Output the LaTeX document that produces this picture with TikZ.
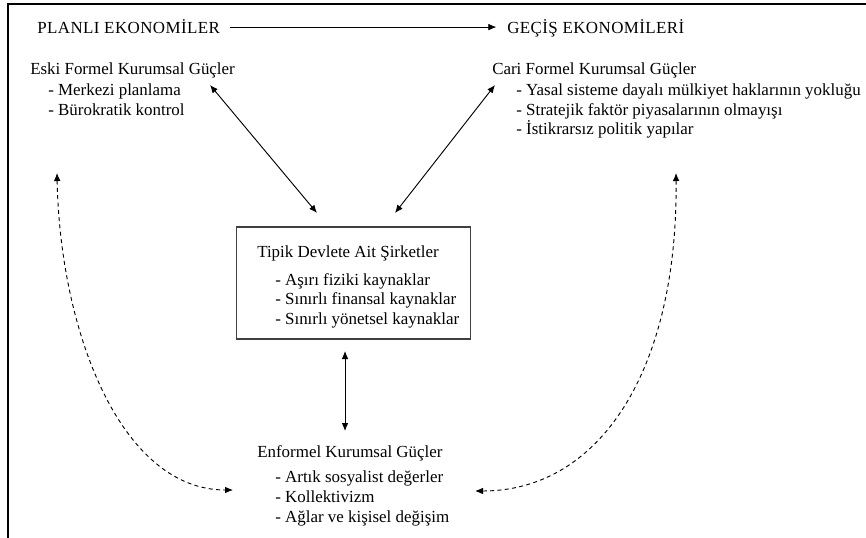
\documentclass[tikz,border=0pt]{standalone}
\usepackage{fontspec}
\setmainfont{Liberation Serif}
\usetikzlibrary{arrows.meta}
\tikzset{
  yazi/.style={anchor=base west, inner sep=0pt, font=\fontsize{12.7pt}{15pt}\selectfont},
  baslik/.style={yazi, font=\fontsize{12.7pt}{15pt}\selectfont\addfontfeature{LetterSpace=2.5}},
  kutu/.style={draw=black!75, line width=0.8pt, minimum width=176pt, minimum height=84pt},
  ok/.style={<->, line width=0.7pt, >={Latex[length=6pt,width=5pt]}},
  kesikok/.style={ok, dash pattern=on 3pt off 2.5pt}
}
\begin{document}
\begin{tikzpicture}[x=0.75pt,y=-0.75pt]
\useasboundingbox (0,0) rectangle (866,538);
\draw[line width=1.2pt] (866,4) -- (8,4) -- (8,538);

\draw (37,34) node[baslik] (planli) {PLANLI EKONOMİLER};
\draw (507,34) node[baslik] (gecis) {GEÇİŞ EKONOMİLERİ};
\draw[-{Latex[length=6pt,width=5pt]}, line width=0.6pt, shorten <=7pt, shorten >=8pt]
  (planli.east) -- (planli.east -| gecis.west);

\draw (30,75) node[yazi] (eski) {Eski Formel Kurumsal Güçler};
\draw (48,96) node[yazi] (eski1) {- Merkezi planlama};
\draw (48,115.5) node[yazi] (eski2) {- Bürokratik kontrol};

\draw (492,75) node[yazi] (cari) {Cari Formel Kurumsal Güçler};
\draw (516,96) node[yazi] (cari1) {- Yasal sisteme dayalı mülkiyet haklarının yokluğu};
\draw (516,115.5) node[yazi] (cari2) {- Stratejik faktör piyasalarının olmayışı};
\draw (516,135) node[yazi] (cari3) {- İstikrarsız politik yapılar};

\node[kutu] (sirket) at (353.5,283) {};
\draw (257,257) node[yazi] (tipik) {Tipik Devlete Ait Şirketler};
\draw (275,285) node[yazi] (tipik1) {- Aşırı fiziki kaynaklar};
\draw (275,304.5) node[yazi] (tipik2) {- Sınırlı finansal kaynaklar};
\draw (275,324) node[yazi] (tipik3) {- Sınırlı yönetsel kaynaklar};

\draw (257,457) node[yazi] (enformel) {Enformel Kurumsal Güçler};
\draw (275,482) node[yazi] (enformel1) {- Artık sosyalist değerler};
\draw (275,502) node[yazi] (enformel2) {- Kollektivizm};
\draw (275,522) node[yazi] (enformel3) {- Ağlar ve kişisel değişim};

% ok uclari
\coordinate (eskiuc) at (210,85);
\coordinate (sirketsol) at (317,213);
\coordinate (cariuc) at (495,85);
\coordinate (sirketsag) at (395,213);
\coordinate (sirketalt) at (345,351);
\coordinate (enformelust) at (345,431);
\coordinate (eskialt) at (57,173);
\coordinate (enformelsol) at (233,490);
\coordinate (carialt) at (676,173);
\coordinate (enformelsag) at (475,491);

\draw[ok] (eskiuc) -- (sirketsol);
\draw[ok] (cariuc) -- (sirketsag);
\draw[ok] (sirketalt) -- (enformelust);

\draw[kesikok] (eskialt) .. controls (60,330) and (120,490) .. (enformelsol);
\draw[kesikok] (carialt) .. controls (678,370) and (600,491) .. (enformelsag);
\end{tikzpicture}
\end{document}
